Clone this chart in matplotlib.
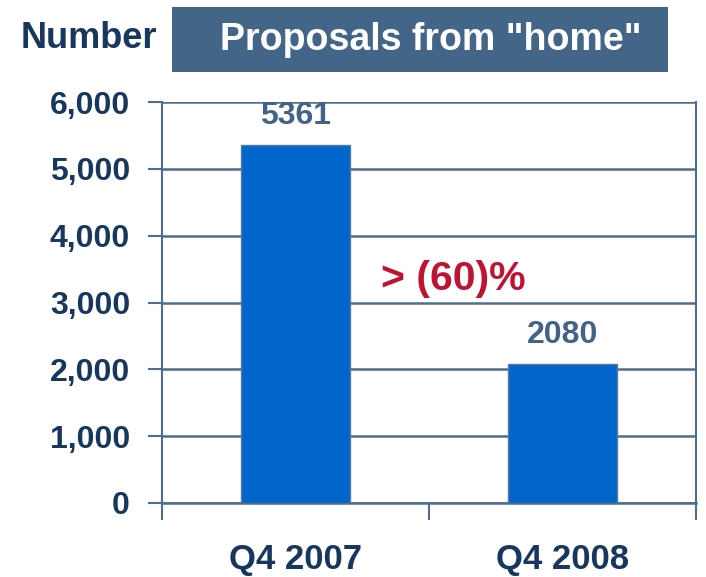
import matplotlib
matplotlib.use("Agg")
import matplotlib.pyplot as plt
from matplotlib.patches import Rectangle

categories = ["Q4 2007", "Q4 2008"]
values = [5361, 2080]
value_labels = ["5361", "2080"]
yticks = [0, 1000, 2000, 3000, 4000, 5000, 6000]
ytick_labels = ["0", "1,000", "2,000", "3,000", "4,000", "5,000", "6,000"]
title = 'Proposals from "home"'
ylabel = "Number"
change_label = "> (60)%"

plt.rcParams['font.family'] = ['Liberation Sans', 'DejaVu Sans']

W, H = 706, 577
fig = plt.figure(figsize=(W / 100, H / 100), dpi=100)

navy = "#17375E"
grid_c = "#4F6D8F"
bar_c = "#0066CC"
label_c = "#426385"
red_c = "#BE1432"

ax = fig.add_axes([162 / W, 1 - 503 / H, (696 - 162) / W, (503 - 102) / H])
x = [0, 1]
ax.bar(x, values, width=0.41, color=bar_c, edgecolor="#5a7a9a", linewidth=1.0, zorder=3)
ax.set_xlim(-0.5, 1.5)
ax.set_ylim(0, 6000)
ax.set_yticks(yticks)
ax.set_yticklabels(ytick_labels, fontsize=23, fontweight="bold", color=navy)
ax.set_xticks(x)
ax.set_xticklabels(categories, fontsize=25, fontweight="bold", color=navy)
ax.tick_params(axis='x', length=0, pad=29)
ax.tick_params(axis='y', length=10, width=1.5, color=grid_c, pad=13)
ax.set_xticks([-0.5, 0.5, 1.5], minor=True)
ax.tick_params(axis='x', which='minor', length=12, width=1.5, color=grid_c, direction='out')
ax.grid(axis='y', color=grid_c, linewidth=1.8, zorder=1)
for s in ['left', 'right']:
    ax.spines[s].set_color(grid_c)
    ax.spines[s].set_linewidth(1.5)
ax.spines['top'].set_visible(False)
ax.spines['bottom'].set_color(grid_c)
ax.spines['bottom'].set_linewidth(1.8)
ax.set_axisbelow(True)

for xi, v, lab in zip(x, values, value_labels):
    ax.annotate(lab, (xi, v), xytext=(0, 10), textcoords="offset points",
                ha="center", va="bottom", fontsize=23, fontweight="bold", color=label_c)

ax.text(0.59, 3350, change_label, ha="center", va="center", fontsize=29.5,
        fontweight="bold", color=red_c)

# Title box
fig.patches.append(Rectangle((172 / W, 1 - 72 / H), (668 - 172) / W, (72 - 7) / H,
                             transform=fig.transFigure, facecolor="#436688",
                             edgecolor="none"))
fig.text(431 / W, 1 - 40 / H, title, ha="center", va="center", fontsize=27,
         fontweight="bold", color="white")
fig.text(89 / W, 1 - 38 / H, ylabel, ha="center", va="center", fontsize=26,
         fontweight="bold", color=navy)

fig.savefig("out.png", dpi=100)
